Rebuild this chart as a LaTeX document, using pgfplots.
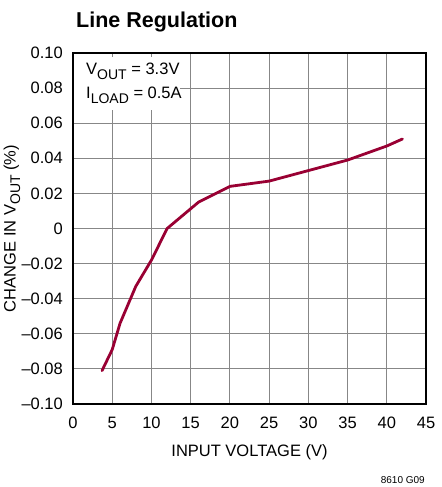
\documentclass[border=0pt]{standalone}
\usepackage{pgfplots}
\pgfplotsset{compat=1.18}
\usepackage{fontspec}
\setmainfont{Liberation Sans}
\definecolor{curve}{RGB}{153,0,51}
\definecolor{gridc}{RGB}{135,135,135}
\newcommand{\sub}[1]{\raisebox{-0.28em}{\fontsize{14bp}{14bp}\selectfont #1}}
\begin{document}
\begin{tikzpicture}
\useasboundingbox (-73bp,-83bp) rectangle (369bp,404bp);
\begin{axis}[
  at={(0,0)}, anchor=south west,
  scale only axis, width=353bp, height=351bp,
  xmin=0, xmax=45, ymin=-0.1, ymax=0.1,
  xtick={0,5,10,15,20,25,30,35,40,45},
  xticklabels={0,5,10,15,20,25,30,35,40,45},
  ytick={-0.1,-0.08,-0.06,-0.04,-0.02,0,0.02,0.04,0.06,0.08,0.1},
  yticklabels={–0.10,–0.08,–0.06,–0.04,–0.02,0,0.02,0.04,0.06,0.08,0.10},
  /pgf/number format/assume math mode=true,
  major tick length=0pt,
  grid=major,
  major grid style={draw=gridc, line width=0.9bp},
  axis line style={line width=1.4bp, black},
  tick label style={font=\fontsize{16.5bp}{18bp}\selectfont},
  xticklabel style={anchor=base, yshift=-24bp, inner sep=0pt},
  yticklabel style={anchor=east, xshift=-10bp, inner sep=0pt},
  xlabel={INPUT VOLTAGE (V)},
  xlabel style={font=\fontsize{16.5bp}{18bp}\selectfont, at={(axis description cs:0.5,-0.150)}, anchor=base},
  ylabel={CHANGE IN V\sub{OUT} (\%)},
  ylabel style={font=\fontsize{16.5bp}{18bp}\selectfont, at={(axis description cs:-0.173,0.5)}, anchor=center},
]
\fill[white] (axis cs:0.15,0.0977) rectangle (axis cs:13.6,0.0675);
\node[anchor=base west, inner sep=0pt, font=\fontsize{16.5bp}{18bp}\selectfont] at (axis cs:1.66,0.0875) {V\sub{OUT} = 3.3V};
\node[anchor=base west, inner sep=0pt, font=\fontsize{16.5bp}{18bp}\selectfont] at (axis cs:1.66,0.0738) {I\sub{LOAD} = 0.5A};
\addplot[color=curve, line width=2.8bp, line join=round, line cap=round] coordinates {
(3.7,-0.081) (5,-0.069) (6,-0.054) (8,-0.033) (10,-0.018) (12,0) (16,0.015) (20,0.024) (25,0.027) (30,0.033) (35,0.039) (40,0.047) (42,0.051)
};
\end{axis}
\node[anchor=base west, inner sep=0pt, font=\fontsize{21.5bp}{24bp}\selectfont\bfseries] at (3bp,376bp) {Line Regulation};
\node[anchor=base east, inner sep=0pt, font=\fontsize{10bp}{12bp}\selectfont] at (352bp,-79bp) {8610 G09};
\end{tikzpicture}
\end{document}
